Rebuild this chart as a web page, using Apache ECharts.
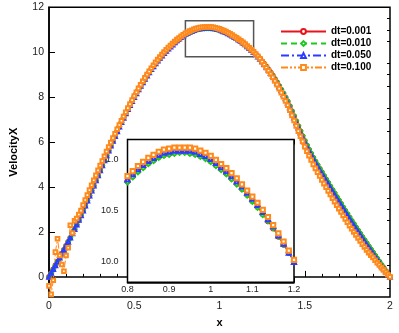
<!DOCTYPE html>
<html>
<head>
<meta charset="utf-8">
<script src="https://cdn.jsdelivr.net/npm/echarts@6/dist/echarts.min.js"></script>
<style>
  html, body { margin: 0; padding: 0; background: #fff; }
  #chart { width: 399px; height: 333px; }
</style>
</head>
<body>
<div id="chart"></div>
<script>
// x positions of the solution points
const xs = [
  0,0.0125,0.025,0.0375,0.05,0.0625,0.075,0.0875,
  0.1,0.1125,0.125,0.1375,0.15,0.1625,0.175,0.1875,
  0.2,0.2125,0.225,0.2375,0.25,0.2625,0.275,0.2875,
  0.3,0.3125,0.325,0.3375,0.35,0.3625,0.375,0.3875,
  0.4,0.4125,0.425,0.4375,0.45,0.4625,0.475,0.4875,
  0.5,0.5125,0.525,0.5375,0.55,0.5625,0.575,0.5875,
  0.6,0.6125,0.625,0.6375,0.65,0.6625,0.675,0.6875,
  0.7,0.7125,0.725,0.7375,0.75,0.7625,0.775,0.7875,
  0.8,0.8125,0.825,0.8375,0.85,0.8625,0.875,0.8875,
  0.9,0.9125,0.925,0.9375,0.95,0.9625,0.975,0.9875,
  1,1.0125,1.025,1.0375,1.05,1.0625,1.075,1.0875,
  1.1,1.1125,1.125,1.1375,1.15,1.1625,1.175,1.1875,
  1.2,1.2125,1.225,1.2375,1.25,1.2625,1.275,1.2875,
  1.3,1.3125,1.325,1.3375,1.35,1.3625,1.375,1.3875,
  1.4,1.4125,1.425,1.4375,1.45,1.4625,1.475,1.4875,
  1.5,1.5125,1.525,1.5375,1.55,1.5625,1.575,1.5875,
  1.6,1.6125,1.625,1.6375,1.65,1.6625,1.675,1.6875,
  1.7,1.7125,1.725,1.7375,1.75,1.7625,1.775,1.7875,
  1.8,1.8125,1.825,1.8375,1.85,1.8625,1.875,1.8875,
  1.9,1.9125,1.925,1.9375,1.95,1.9625,1.975,1.9875,
  2
];

// VelocityX for each time step
const dt001 = [
  0.00,0.17,0.34,0.51,0.68,0.85,1.03,1.20,1.38,1.56,
  1.74,1.93,2.12,2.32,2.53,2.74,2.95,3.17,3.39,3.61,
  3.84,4.06,4.29,4.51,4.74,4.96,5.18,5.40,5.62,5.84,
  6.05,6.26,6.47,6.68,6.88,7.08,7.27,7.46,7.64,7.82,
  8.00,8.17,8.34,8.50,8.66,8.81,8.96,9.10,9.24,9.37,
  9.50,9.62,9.74,9.85,9.96,10.06,10.16,10.25,10.34,10.43,
  10.51,10.58,10.66,10.73,10.79,10.84,10.89,10.93,10.97,11.00,
  11.03,11.05,11.06,11.07,11.08,11.08,11.07,11.06,11.04,11.02,
  10.99,10.95,10.91,10.87,10.82,10.77,10.72,10.66,10.60,10.54,
  10.47,10.40,10.33,10.25,10.17,10.09,10.00,9.91,9.81,9.71,
  9.60,9.48,9.36,9.23,9.10,8.96,8.81,8.66,8.50,8.33,
  8.16,7.98,7.80,7.59,7.37,7.15,6.92,6.70,6.48,6.26,
  6.05,5.85,5.66,5.48,5.30,5.13,4.97,4.81,4.65,4.49,
  4.33,4.18,4.02,3.86,3.71,3.55,3.40,3.25,3.09,2.94,
  2.79,2.64,2.49,2.35,2.20,2.06,1.92,1.77,1.63,1.49,
  1.35,1.22,1.08,0.94,0.81,0.67,0.53,0.40,0.26,0.13,
  0.00
];
const dt010 = [
  0.00,0.17,0.34,0.51,0.68,0.85,1.03,1.20,1.38,1.56,
  1.74,1.93,2.12,2.32,2.53,2.74,2.95,3.17,3.39,3.61,
  3.84,4.06,4.29,4.51,4.74,4.96,5.18,5.40,5.62,5.84,
  6.05,6.26,6.47,6.68,6.88,7.08,7.27,7.46,7.64,7.82,
  8.00,8.17,8.34,8.50,8.66,8.81,8.96,9.10,9.24,9.37,
  9.50,9.62,9.74,9.85,9.96,10.06,10.16,10.25,10.34,10.43,
  10.51,10.58,10.66,10.73,10.78,10.83,10.88,10.92,10.96,10.99,
  11.02,11.04,11.05,11.06,11.07,11.07,11.06,11.05,11.03,11.01,
  10.98,10.94,10.90,10.86,10.81,10.76,10.71,10.65,10.59,10.53,
  10.46,10.40,10.33,10.25,10.17,10.09,10.00,9.91,9.81,9.71,
  9.60,9.48,9.36,9.23,9.10,8.96,8.82,8.67,8.51,8.35,
  8.18,8.00,7.83,7.62,7.40,7.18,6.95,6.73,6.51,6.29,
  6.08,5.88,5.69,5.51,5.33,5.16,5.00,4.84,4.68,4.52,
  4.36,4.21,4.05,3.89,3.74,3.58,3.43,3.28,3.12,2.97,
  2.82,2.67,2.52,2.38,2.23,2.09,1.95,1.80,1.66,1.52,
  1.38,1.25,1.11,0.97,0.84,0.70,0.56,0.42,0.28,0.14,
  0.00
];
const dt050 = [
  0.00,0.17,0.34,0.51,0.68,0.85,1.03,1.20,1.38,1.56,
  1.74,1.93,2.12,2.32,2.53,2.74,2.95,3.17,3.39,3.61,
  3.84,4.06,4.29,4.51,4.74,4.96,5.18,5.40,5.62,5.84,
  6.05,6.26,6.47,6.68,6.88,7.08,7.27,7.46,7.64,7.82,
  8.00,8.17,8.34,8.50,8.66,8.81,8.96,9.10,9.24,9.37,
  9.50,9.62,9.74,9.85,9.96,10.06,10.16,10.25,10.34,10.43,
  10.52,10.60,10.68,10.75,10.81,10.86,10.91,10.95,10.99,11.02,
  11.05,11.07,11.08,11.09,11.09,11.09,11.09,11.08,11.06,11.04,
  11.01,10.97,10.93,10.89,10.84,10.79,10.74,10.68,10.62,10.56,
  10.49,10.42,10.35,10.26,10.18,10.09,10.00,9.90,9.80,9.70,
  9.59,9.47,9.35,9.22,9.08,8.94,8.79,8.63,8.47,8.30,
  8.12,7.94,7.75,7.54,7.32,7.09,6.86,6.64,6.42,6.20,
  5.99,5.79,5.60,5.42,5.24,5.07,4.91,4.75,4.59,4.43,
  4.27,4.12,3.96,3.80,3.65,3.49,3.34,3.19,3.03,2.88,
  2.73,2.58,2.43,2.29,2.14,2.00,1.86,1.71,1.57,1.43,
  1.30,1.17,1.03,0.90,0.77,0.63,0.50,0.37,0.24,0.12,
  0.00
];
const dt100 = [
  -0.40,-0.78,-0.15,1.10,1.70,0.95,0.55,0.25,0.95,1.30,
  2.30,1.95,2.50,2.60,2.78,2.95,3.20,3.42,3.64,3.86,
  4.08,4.30,4.52,4.74,4.96,5.16,5.37,5.58,5.78,5.98,
  6.18,6.37,6.57,6.76,6.95,7.14,7.33,7.51,7.69,7.87,
  8.05,8.22,8.39,8.55,8.71,8.86,9.01,9.15,9.29,9.42,
  9.55,9.67,9.79,9.90,10.01,10.11,10.21,10.30,10.39,10.48,
  10.56,10.63,10.71,10.78,10.84,10.89,10.94,10.98,11.02,11.05,
  11.08,11.10,11.11,11.12,11.12,11.12,11.12,11.11,11.09,11.07,
  11.04,11.00,10.96,10.92,10.87,10.82,10.76,10.70,10.64,10.58,
  10.51,10.44,10.36,10.28,10.20,10.11,10.02,9.92,9.82,9.71,
  9.57,9.44,9.31,9.17,9.03,8.88,8.72,8.56,8.38,8.20,
  8.02,7.83,7.64,7.42,7.19,6.96,6.72,6.49,6.26,6.03,
  5.80,5.59,5.39,5.20,5.01,4.83,4.66,4.49,4.32,4.15,
  3.99,3.83,3.67,3.50,3.35,3.19,3.04,2.89,2.73,2.58,
  2.43,2.28,2.14,2.00,1.87,1.73,1.60,1.46,1.33,1.20,
  1.08,0.96,0.86,0.74,0.63,0.53,0.41,0.31,0.20,0.10,
  0.00
];

const seriesNames = ['dt=0.001', 'dt=0.010', 'dt=0.050', 'dt=0.100'];
const seriesValues = [dt001, dt010, dt050, dt100];

// axis ticks
const yMajor = [0, 2, 4, 6, 8, 10, 12];
const yMinor = [-0.5, 0.5, 1, 1.5, 2.5, 3, 3.5, 4.5, 5, 5.5, 6.5, 7, 7.5, 8.5, 9, 9.5, 10.5, 11, 11.5];
const insetYMajor = [10, 10.5, 11];
const insetYMinor = [9.9, 10.1, 10.2, 10.3, 10.4, 10.6, 10.7, 10.8, 10.9, 11.1];

// zoom window shown in the inset
const zoomX = [0.8, 1.2];
const zoomY = [9.8, 11.4];
const insetY = [9.8, 11.2];

const styles = [
    { color: '#e8141c', type: 'solid', symbol: 'emptyCircle' },
    { color: '#1ec81e', type: [6, 4], symbol: 'emptyDiamond' },
    { color: '#2a3cff', type: [8, 3, 2, 3], symbol: 'emptyTriangle' },
    { color: '#ff8a1c', type: [7, 2, 2, 2, 2, 2], symbol: 'emptyRect' }
];

const FONT = 'Liberation Sans, Arial, sans-serif';
const chart = echarts.init(document.getElementById('chart'));

const makeSeries = (idx, xi, yi, size, extra) => {
    const st = styles[idx];
    return Object.assign({
        name: seriesNames[idx],
        type: 'line',
        xAxisIndex: xi,
        yAxisIndex: yi,
        data: xs.map((x, i) => [x, seriesValues[idx][i]]),
        symbol: st.symbol,
        symbolSize: size,
        showSymbol: true,
        color: st.color,
        lineStyle: { color: st.color, width: idx === 0 ? 1.3 : 1, type: st.type },
        itemStyle: { color: st.color, borderWidth: 0.9 },
        emphasis: { disabled: true },
        clip: true
    }, extra || {});
};

const tickStyle = { color: '#000', width: 1 };

const series = [];
seriesNames.forEach((n, i) => series.push(makeSeries(i, 0, 0, 3.6)));
// zoom box on the main plot
series[0].markArea = {
    silent: true,
    itemStyle: { color: 'rgba(0,0,0,0)', borderColor: '#555', borderWidth: 1.5 },
    data: [[{ coord: [zoomX[0], zoomY[0]] }, { coord: [zoomX[1], zoomY[1]] }]]
};
seriesNames.forEach((n, i) => series.push(makeSeries(i, 1, 2, 4.2, { z: 10 })));

const option = {
    animation: false,
    backgroundColor: '#fff',
    textStyle: { fontFamily: FONT },
    grid: [
        { left: 48.3, right: 9, top: 7.3, bottom: 29, show: true, borderColor: '#000', borderWidth: 1.5, backgroundColor: 'transparent' },
        { left: 127.5, right: 105, top: 139.5, bottom: 50.7, show: true, borderColor: '#000', borderWidth: 1.5, backgroundColor: '#fff', z: 5 }
    ],
    legend: {
        orient: 'vertical',
        left: 280,
        top: 25.5,
        itemWidth: 45,
        itemHeight: 6,
        itemGap: 0,
        padding: 0,
        textStyle: { fontFamily: FONT, fontSize: 10, fontWeight: 'bold', color: '#000', lineHeight: 12 },
        data: seriesNames
    },
    xAxis: [
        {
            type: 'value', gridIndex: 0, min: 0, max: 2, interval: 0.5,
            name: 'x', nameLocation: 'middle', nameGap: 18,
            nameTextStyle: { fontFamily: FONT, fontSize: 11, fontWeight: 'bold', color: '#000' },
            axisLine: { lineStyle: { color: '#000', width: 1.5 } },
            axisTick: { inside: true, length: 6, lineStyle: tickStyle },
            minorTick: { show: true, splitNumber: 5, length: 3, lineStyle: tickStyle },
            axisLabel: { fontSize: 10.5, color: '#222', margin: 4 },
            splitLine: { show: false }
        },
        {
            type: 'value', gridIndex: 1, min: zoomX[0], max: zoomX[1], interval: 0.1,
            axisLine: { lineStyle: { color: '#000', width: 1.5 } },
            axisTick: { inside: true, length: 5, lineStyle: tickStyle },
            minorTick: { show: true, splitNumber: 5, length: 2.5, lineStyle: tickStyle },
            axisLabel: { fontSize: 9, color: '#222', margin: 3 },
            splitLine: { show: false }
        },
        {
            type: 'value', gridIndex: 1, position: 'top', min: zoomX[0], max: zoomX[1], interval: 0.1,
            axisLine: { show: false },
            axisTick: { inside: true, length: 5, lineStyle: tickStyle },
            minorTick: { show: true, splitNumber: 5, length: 2.5, lineStyle: tickStyle },
            axisLabel: { show: false },
            splitLine: { show: false }
        }
    ],
    yAxis: [
        {
            type: 'value', gridIndex: 0, min: -0.9, max: 12,
            name: 'VelocityX', nameLocation: 'middle', nameGap: 30, nameRotate: 90,
            nameTextStyle: { fontFamily: FONT, fontSize: 11, fontWeight: 'bold', color: '#000' },
            axisLine: { lineStyle: { color: '#000', width: 1.5 } },
            axisTick: { inside: true, length: 6, lineStyle: tickStyle, customValues: yMajor },
            axisLabel: { fontSize: 10.5, color: '#222', margin: 5, customValues: yMajor },
            splitLine: { show: false }
        },
        {
            type: 'value', gridIndex: 0, min: -0.9, max: 12,
            axisLine: { show: false },
            axisTick: { inside: true, length: 3, lineStyle: tickStyle, customValues: yMinor },
            axisLabel: { show: false, customValues: yMinor },
            splitLine: { show: false }
        },
        {
            type: 'value', gridIndex: 1, min: insetY[0], max: insetY[1],
            axisLine: { lineStyle: { color: '#000', width: 1.5 } },
            axisTick: { inside: true, length: 5, lineStyle: tickStyle, customValues: insetYMajor },
            axisLabel: { fontSize: 9, color: '#222', margin: 9, customValues: insetYMajor,
                formatter: v => v.toFixed(1) },
            splitLine: { show: false }
        },
        {
            type: 'value', gridIndex: 1, min: insetY[0], max: insetY[1],
            axisLine: { show: false },
            axisTick: { inside: true, length: 2.5, lineStyle: tickStyle, customValues: insetYMinor },
            axisLabel: { show: false, customValues: insetYMinor },
            splitLine: { show: false }
        },
        {
            type: 'value', gridIndex: 1, position: 'right', min: insetY[0], max: insetY[1],
            axisLine: { show: false },
            axisTick: { inside: true, length: 5, lineStyle: tickStyle, customValues: insetYMajor },
            axisLabel: { show: false, customValues: insetYMajor },
            splitLine: { show: false }
        },
        {
            type: 'value', gridIndex: 1, position: 'right', min: insetY[0], max: insetY[1],
            axisLine: { show: false },
            axisTick: { inside: true, length: 2.5, lineStyle: tickStyle, customValues: insetYMinor },
            axisLabel: { show: false, customValues: insetYMinor },
            splitLine: { show: false }
        }
    ],
    series: series
};

chart.setOption(option);
</script>
</body>
</html>
